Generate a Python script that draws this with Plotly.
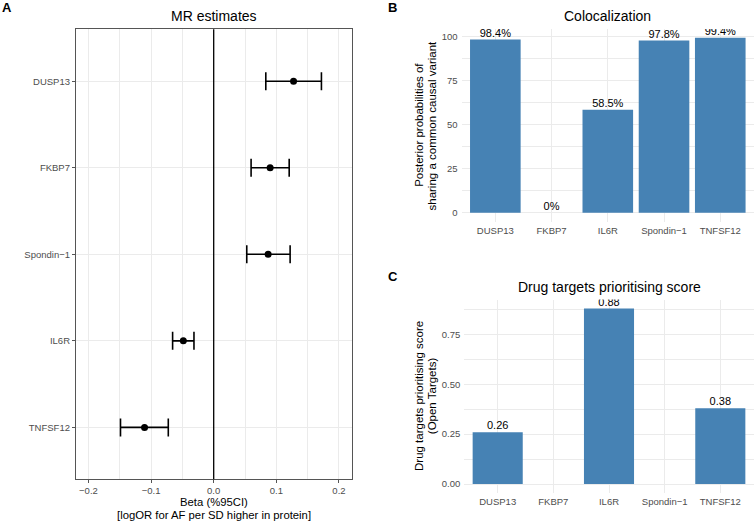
import plotly.graph_objects as go

W, H = 754, 521

def fx(p):
    return p / W

def fy(p):
    return 1 - p / H

FONT = "Liberation Sans, Arial, Helvetica, sans-serif"
BLUE = "#4682B4"
GRID = "#EBEBEB"
TICKC = "#4D4D4D"

# ---- Panel A data: MR estimates ----
mr_genes = ["DUSP13", "FKBP7", "Spondin\u22121", "IL6R", "TNFSF12"]
mr_beta = [0.1275, 0.0901, 0.0869, -0.0485, -0.1104]
mr_lower = [0.0832, 0.0597, 0.0528, -0.0656, -0.1488]
mr_upper = [0.1720, 0.1205, 0.1220, -0.0315, -0.0725]
mr_xticks = [-0.2, -0.1, 0.0, 0.1, 0.2]
mr_xticklabels = ["\u22120.2", "\u22120.1", "0.0", "0.1", "0.2"]

# ---- Panel B data: Colocalization ----
genes = ["DUSP13", "FKBP7", "IL6R", "Spondin\u22121", "TNFSF12"]
coloc_pp = [98.4, 0.0, 58.5, 97.8, 99.4]
coloc_labels = ["98.4%", "0%", "58.5%", "97.8%", "99.4%"]

# ---- Panel C data: Drug targets prioritising score ----
drug_score = [0.26, None, 0.88, None, 0.38]
drug_labels = ["0.26", "", "0.88", "", "0.38"]

fig = go.Figure()

# Panel A
err_plus = [u - b for u, b in zip(mr_upper, mr_beta)]
err_minus = [b - l for b, l in zip(mr_beta, mr_lower)]
fig.add_trace(go.Scatter(
    x=mr_beta, y=mr_genes, mode="markers",
    marker=dict(color="black", size=7),
    error_x=dict(type="data", symmetric=False, array=err_plus, arrayminus=err_minus,
                 color="black", thickness=1.6, width=9),
    xaxis="x", yaxis="y", showlegend=False, hoverinfo="skip",
))

# Panel B
fig.add_trace(go.Bar(
    x=genes, y=coloc_pp, marker=dict(color=BLUE, line=dict(width=0)), width=0.9,
    xaxis="x2", yaxis="y2", showlegend=False, hoverinfo="skip",
))
fig.add_trace(go.Scatter(
    x=genes, y=coloc_pp, mode="text", text=coloc_labels, textposition="top center",
    textfont=dict(family=FONT, size=11, color="black"), marker=dict(size=1),
    cliponaxis=True, xaxis="x2", yaxis="y2", showlegend=False, hoverinfo="skip",
))

# Panel C
fig.add_trace(go.Bar(
    x=genes, y=drug_score, marker=dict(color=BLUE, line=dict(width=0)), width=0.9,
    xaxis="x3", yaxis="y3", showlegend=False, hoverinfo="skip",
))
fig.add_trace(go.Scatter(
    x=genes, y=drug_score, mode="text", text=drug_labels, textposition="top center",
    textfont=dict(family=FONT, size=11, color="black"), marker=dict(size=1),
    cliponaxis=True, xaxis="x3", yaxis="y3", showlegend=False, hoverinfo="skip",
))

tickfont = dict(family=FONT, size=9.5, color=TICKC)

layout = dict(
    width=W, height=H,
    margin=dict(l=0, r=0, t=0, b=0),
    paper_bgcolor="white", plot_bgcolor="white",
    font=dict(family=FONT, color="black"),
    xaxis=dict(
        domain=[fx(75.9), fx(351.5)], range=[-0.22, 0.22], anchor="y",
        tickvals=mr_xticks, ticktext=mr_xticklabels, tickfont=tickfont,
        showgrid=True, gridcolor=GRID, gridwidth=1,
        minor=dict(dtick=0.05, tick0=0, showgrid=True, gridcolor=GRID, gridwidth=0.6, ticks=""),
        zeroline=False, showline=True, mirror=True, linecolor="#555555", linewidth=1,
        ticks="outside", ticklen=3, tickcolor="#555555", tickwidth=1,
        ticklabelstandoff=-1,
    ),
    yaxis=dict(
        domain=[fy(479.3), fy(29.3)], anchor="x", type="category",
        categoryorder="array", categoryarray=mr_genes, range=[4.6, -0.6],
        tickfont=tickfont, showgrid=True, gridcolor=GRID, gridwidth=1,
        zeroline=False, showline=True, mirror=True, linecolor="#555555", linewidth=1,
        ticks="outside", ticklen=3, tickcolor="#555555", tickwidth=1,
    ),
    xaxis2=dict(
        domain=[fx(461.6), 1.0], anchor="y2", type="category",
        categoryorder="array", categoryarray=genes, range=[-0.6, 4.6],
        tickfont=tickfont, showgrid=True, gridcolor=GRID, gridwidth=1,
        zeroline=False, showline=False, ticks="", ticklabelstandoff=2,
    ),
    yaxis2=dict(
        domain=[fy(221.5), fy(29.0)], anchor="x2", range=[-4.97, 104.37],
        tickvals=[0, 25, 50, 75, 100], tickfont=tickfont,
        showgrid=True, gridcolor=GRID, gridwidth=1,
        minor=dict(dtick=12.5, tick0=0, showgrid=True, gridcolor=GRID, gridwidth=0.6, ticks=""),
        zeroline=False, showline=False, ticks="", ticklabelstandoff=3,
    ),
    xaxis3=dict(
        domain=[fx(464.3), fx(753.7)], anchor="y3", type="category",
        categoryorder="array", categoryarray=genes, range=[-0.6, 4.6],
        tickfont=tickfont, showgrid=True, gridcolor=GRID, gridwidth=1,
        zeroline=False, showline=False, ticks="", ticklabelstandoff=2,
    ),
    yaxis3=dict(
        domain=[fy(492.8), fy(299.6)], anchor="x3", range=[-0.044, 0.924],
        tickvals=[0, 0.25, 0.5, 0.75], tickformat=".2f", tickfont=tickfont,
        showgrid=True, gridcolor=GRID, gridwidth=1,
        minor=dict(dtick=0.125, tick0=0, showgrid=True, gridcolor=GRID, gridwidth=0.6, ticks=""),
        zeroline=False, showline=False, ticks="", ticklabelstandoff=3,
    ),
    shapes=[dict(type="line", xref="x", yref="y domain", x0=0, x1=0, y0=0, y1=1,
                 line=dict(color="black", width=1.3), layer="above")],
)

def ann(text, x, y, size, bold=False, angle=0, color="black"):
    return dict(text=("<b>%s</b>" % text) if bold else text,
                x=fx(x), y=fy(y), xref="paper", yref="paper",
                xanchor="center", yanchor="middle", showarrow=False,
                textangle=angle, font=dict(family=FONT, size=size, color=color))

layout["annotations"] = [
    ann("A", 6.5, 7.5, 13, bold=True),
    ann("B", 392.5, 7.5, 13, bold=True),
    ann("C", 392.5, 276.7, 13, bold=True),
    ann("MR estimates", 213.7, 16, 14),
    ann("Colocalization", 607.8, 16, 14),
    ann("Drug targets prioritising score", 609, 287, 14),
    ann("Beta (%95CI)", 213.7, 502.0, 11.3),
    ann("[logOR for AF per SD higher in protein]", 213.7, 515.0, 11.3),
    ann("Posterior probabilities of", 419.5, 125.3, 11.5, angle=-90),
    ann("sharing a common causal variant", 432.2, 125.3, 11.5, angle=-90),
    ann("Drug targets prioritising score", 419.0, 396, 11.5, angle=-90),
    ann("(Open Targets)", 432.2, 396, 11.5, angle=-90),
]

fig.update_layout(**layout)
fig.write_html(
    "out.html",
    config={"displayModeBar": False},
    post_script="document.body.style.margin='0';document.body.style.overflow='hidden';",
)
